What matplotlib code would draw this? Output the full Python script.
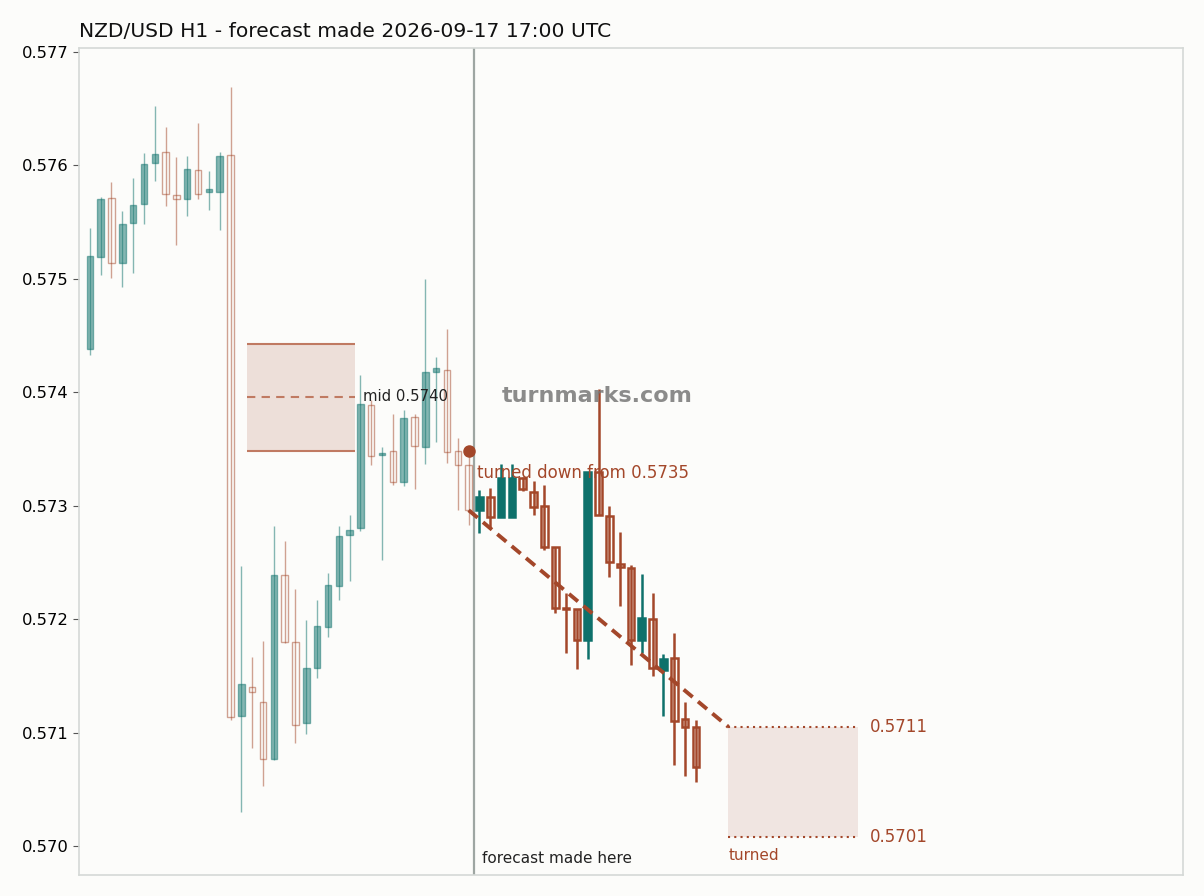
import matplotlib
matplotlib.use("Agg")
import matplotlib.pyplot as plt
import numpy as np

# history candles (OHLC)
hist_open = [0.57438, 0.57519, 0.57571, 0.57514, 0.57549, 0.57566, 0.57602, 0.57612, 0.57574, 0.57570,
             0.57596, 0.57577, 0.57577, 0.57609, 0.57115, 0.57140, 0.57127, 0.57077, 0.57239, 0.57180,
             0.57108, 0.57157, 0.57193, 0.57229, 0.57274, 0.57280, 0.57389, 0.57345, 0.57348, 0.57321,
             0.57378, 0.57352, 0.57418, 0.57420, 0.57348, 0.57336]
hist_high = [0.57545, 0.57572, 0.57585, 0.57560, 0.57589, 0.57611, 0.57652, 0.57634, 0.57607, 0.57608,
             0.57637, 0.57595, 0.57612, 0.57669, 0.57247, 0.57167, 0.57181, 0.57282, 0.57269, 0.57227,
             0.57199, 0.57217, 0.57241, 0.57282, 0.57292, 0.57415, 0.57393, 0.57352, 0.57381, 0.57384,
             0.57381, 0.57500, 0.57431, 0.57456, 0.57360, 0.57345]
hist_low = [0.57433, 0.57503, 0.57501, 0.57493, 0.57505, 0.57548, 0.57586, 0.57564, 0.57530, 0.57555,
            0.57570, 0.57561, 0.57543, 0.57111, 0.57030, 0.57086, 0.57053, 0.57076, 0.57179, 0.57091,
            0.57099, 0.57148, 0.57184, 0.57217, 0.57234, 0.57278, 0.57336, 0.57252, 0.57318, 0.57317,
            0.57315, 0.57337, 0.57356, 0.57338, 0.57296, 0.57283]
hist_close = [0.57520, 0.57570, 0.57514, 0.57548, 0.57565, 0.57601, 0.57610, 0.57575, 0.57570, 0.57597,
              0.57575, 0.57579, 0.57608, 0.57114, 0.57143, 0.57136, 0.57077, 0.57239, 0.57180, 0.57107,
              0.57157, 0.57194, 0.57230, 0.57273, 0.57279, 0.57390, 0.57344, 0.57346, 0.57321, 0.57377,
              0.57353, 0.57418, 0.57421, 0.57347, 0.57336, 0.57296]

# forecast candles (OHLC)
fc_open = [0.57296, 0.57308, 0.57290, 0.57290, 0.57324, 0.57312, 0.57300, 0.57264, 0.57210, 0.57209,
           0.57182, 0.57330, 0.57291, 0.57249, 0.57245, 0.57182, 0.57200, 0.57155, 0.57166, 0.57112,
           0.57105]
fc_high = [0.57314, 0.57316, 0.57337, 0.57337, 0.57325, 0.57322, 0.57318, 0.57264, 0.57223, 0.57209,
           0.57330, 0.57403, 0.57300, 0.57277, 0.57248, 0.57240, 0.57223, 0.57169, 0.57188, 0.57127,
           0.57111]
fc_low = [0.57276, 0.57281, 0.57290, 0.57290, 0.57313, 0.57292, 0.57261, 0.57205, 0.57170, 0.57156,
          0.57165, 0.57292, 0.57237, 0.57212, 0.57160, 0.57170, 0.57150, 0.57115, 0.57071, 0.57062,
          0.57056]
fc_close = [0.57308, 0.57290, 0.57324, 0.57324, 0.57315, 0.57299, 0.57264, 0.57210, 0.57209, 0.57182,
            0.57330, 0.57292, 0.57250, 0.57246, 0.57182, 0.57201, 0.57157, 0.57165, 0.57110, 0.57105,
            0.57070]

mid_box = (0.57348, 0.57443)
mid_level = 0.57396
turn_price = 0.57348
trend_end = 0.57105
zone_top = 0.57105
zone_bottom = 0.57008

bg = "#fcfcfa"
green = "#0e716b"
red = "#a3472a"

fig, ax = plt.subplots(figsize=(12.04, 8.96), dpi=100)
fig.patch.set_facecolor(bg)
ax.set_facecolor(bg)
fig.subplots_adjust(left=0.0656, right=0.9826, top=0.9464, bottom=0.0234)


def draw_candles(ax, x0, o, h, l, c, width, alpha, lw_edge, lw_wick):
    for k in range(len(o)):
        x = x0 + k
        up = c[k] >= o[k]
        col = green if up else red
        ax.vlines(x, l[k], h[k], color=col, lw=lw_wick, alpha=alpha, zorder=2)
        bottom = min(o[k], c[k])
        height = max(abs(c[k] - o[k]), 0.000012)
        if up:
            ax.bar(x, height, width, bottom=bottom, color=col, edgecolor=col,
                   lw=lw_edge, alpha=alpha, zorder=3)
        else:
            ax.bar(x, height, width, bottom=bottom, facecolor="none", edgecolor=col,
                   lw=lw_edge, alpha=alpha, zorder=3)


n_hist = len(hist_open)
draw_candles(ax, 0, hist_open, hist_high, hist_low, hist_close, 0.6, 0.5, 1.0, 1.0)
draw_candles(ax, n_hist, fc_open, fc_high, fc_low, fc_close, 0.62, 1.0, 1.8, 1.8)

# mid range box
ax.fill_between([14.5, 24.5], mid_box[0], mid_box[1], color="#eddfd9", zorder=1, lw=0)
ax.hlines(list(mid_box), 14.5, 24.5, color="#c07a62", lw=1.5, zorder=1.5)
ax.hlines(mid_level, 14.5, 24.5, color="#c07a62", lw=1.5, ls=(0, (4, 3)), zorder=1.5)
ax.text(25.2, mid_level, "mid 0.5740", fontsize=10.7, va="center", ha="left", color="#222222")

# forecast start
ax.axvline(n_hist - 0.5, color="#9ea6a2", lw=1.6, zorder=1)
ax.text(n_hist + 0.2, 0.569894, "forecast made here", fontsize=11, va="center", ha="left",
        color="#222222")

# turn point and trend
ax.plot(n_hist - 1, turn_price, "o", color=red, ms=8, zorder=5)
ax.text(n_hist - 0.25, 0.57329, "turned down from 0.5735", fontsize=12, va="center", ha="left",
        color=red)
ax.plot([n_hist - 1, 59], [hist_close[-1], trend_end], color=red, lw=2.8, ls=(0, (3, 1.8)),
        zorder=4)

# target zone
ax.fill_between([59, 71], zone_bottom, zone_top, color="#f0e5e1", zorder=1, lw=0)
ax.hlines([zone_top, zone_bottom], 59, 71, color=red, lw=1.5, ls=(0, (1, 2)), zorder=1.5)
ax.text(72.1, zone_top, "0.5711", fontsize=12, va="center", ha="left", color=red)
ax.text(72.1, zone_bottom, "0.5701", fontsize=12, va="center", ha="left", color=red)
ax.text(59, 0.569912, "turned", fontsize=11, va="center", ha="left", color=red)

# watermark
ax.text(46.9, 0.573967, "turnmarks.com", fontsize=16, fontweight="bold", color="#777777",
        alpha=0.85, ha="center", va="center")

ax.set_xlim(-1, 101)
ax.set_ylim(0.569744, 0.577035)
ax.set_yticks(np.arange(0.570, 0.5771, 0.001))
ax.yaxis.set_major_formatter(matplotlib.ticker.FormatStrFormatter("%.3f"))
ax.set_xticks([])
ax.tick_params(axis="y", labelsize=11.8, color="#555555", length=4)
for s in ax.spines.values():
    s.set_color("#d5d9d6")
    s.set_linewidth(1.2)

ax.set_title("NZD/USD H1 - forecast made 2026-09-17 17:00 UTC", loc="left", fontsize=14.6,
             color="#111111", pad=8)

fig.savefig("out.png", dpi=100, facecolor=bg)
